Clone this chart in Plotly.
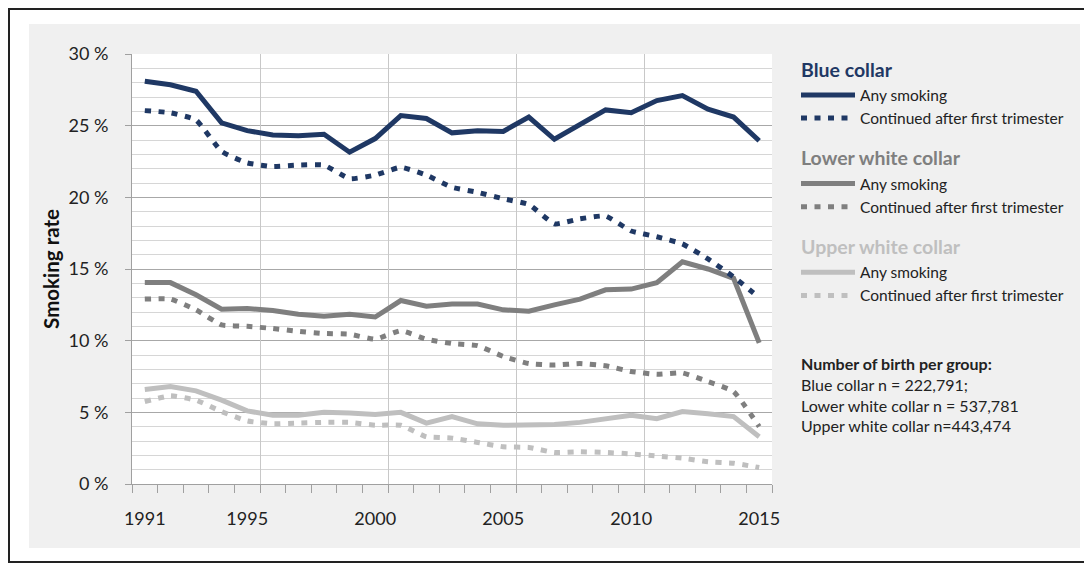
import plotly.graph_objects as go

years = list(range(1991, 2016))
label_years = [1991, 1995, 2000, 2005, 2010, 2015]
grid_years = [1995.5, 2000.5, 2005.5, 2010.5]

blue_any = [28.1, 27.85, 27.4, 25.2, 24.65, 24.35, 24.3, 24.4, 23.15, 24.1, 25.7, 25.5, 24.5,
            24.65, 24.6, 25.6, 24.05, 25.05, 26.1, 25.9, 26.75, 27.1, 26.15, 25.6, 23.95]
blue_cont = [26.05, 25.9, 25.4, 23.2, 22.4, 22.15, 22.25, 22.25, 21.3, 21.55, 22.1, 21.55, 20.7,
             20.35, 19.9, 19.5, 18.15, 18.5, 18.7, 17.65, 17.25, 16.75, 15.7, 14.45, 13.0]
lower_any = [14.05, 14.05, 13.2, 12.2, 12.25, 12.1, 11.85, 11.7, 11.85, 11.65, 12.8, 12.4, 12.55,
             12.55, 12.15, 12.05, 12.5, 12.9, 13.55, 13.6, 14.05, 15.5, 15.0, 14.35, 9.85]
lower_cont = [12.9, 12.9, 12.15, 11.1, 11.0, 10.85, 10.65, 10.5, 10.45, 10.1, 10.7, 10.1, 9.8,
              9.65, 8.9, 8.4, 8.3, 8.4, 8.25, 7.85, 7.65, 7.75, 7.15, 6.45, 4.0]
upper_any = [6.6, 6.8, 6.5, 5.85, 5.1, 4.8, 4.8, 5.0, 4.95, 4.85, 5.0, 4.25, 4.7,
             4.2, 4.1, 4.1, 4.15, 4.3, 4.55, 4.8, 4.55, 5.05, 4.9, 4.7, 3.3]
upper_cont = [5.75, 6.15, 5.85, 5.05, 4.4, 4.2, 4.25, 4.3, 4.3, 4.1, 4.1, 3.3, 3.2,
              2.9, 2.6, 2.55, 2.2, 2.25, 2.2, 2.1, 1.95, 1.8, 1.55, 1.45, 1.15]

groups = ["Blue collar", "Lower white collar", "Upper white collar"]
colors = ["#1f3864", "#7f7f7f", "#bfbfbf"]
series_names = ["Any smoking", "Continued after first trimester"]
note_lines = ["<b>Number of birth per group:</b>", "Blue collar n = 222,791;",
              "Lower white collar n = 537,781", "Upper white collar n=443,474"]

FONT = "Lato, 'Open Sans', sans-serif"
DOT = "6px,7.5px"

fig = go.Figure()
data = [(blue_any, blue_cont), (lower_any, lower_cont), (upper_any, upper_cont)]
for gi, (g, c, (a, d)) in enumerate(zip(groups, colors, data)):
    fig.add_trace(go.Scatter(
        x=years, y=a, mode="lines", name=series_names[0],
        line=dict(color=c, width=5), legendgroup=g,
        legendgrouptitle=dict(text=g, font=dict(size=19.5, color=c, family=FONT, weight="bold")),
        legendrank=gi * 10 + 1))
    fig.add_trace(go.Scatter(
        x=years, y=d, mode="lines", name=series_names[1],
        line=dict(color=c, width=5, dash=DOT, shape="spline", smoothing=0.4),
        legendgroup=g, legendrank=gi * 10 + 2,
        xaxis="x2" if gi == 0 else "x"))

# page body has an 8px offset; plot area spans 132..772 x 54..484 in screen pixels
OFF = 8
L, T = 132 - OFF, 54 - OFF
W, H = 1084, 558
pw, ph = 640, 430
R, B = W - L - pw, H - T - ph

def px_x(p):
    return (p - 132) / pw

def px_y(p):
    return (484 - p) / ph

shapes = [
    dict(type="rect", xref="paper", yref="paper", x0=px_x(29), x1=px_x(1080),
         y0=px_y(548), y1=px_y(24), fillcolor="#f0f0f0", line=dict(width=0), layer="below"),
    dict(type="rect", xref="paper", yref="paper", x0=0, x1=1, y0=0, y1=1,
         fillcolor="#ffffff", line=dict(width=0), layer="below"),
    dict(type="rect", xref="paper", yref="paper", x0=px_x(OFF + 1), x1=px_x(1086),
         y0=px_y(562), y1=px_y(OFF + 1), fillcolor="rgba(0,0,0,0)",
         line=dict(color="#222222", width=2), layer="below"),
]

fig.update_layout(
    width=W, height=H,
    margin=dict(l=L, r=R, t=T, b=B, autoexpand=False),
    paper_bgcolor="#ffffff", plot_bgcolor="rgba(0,0,0,0)",
    font=dict(family=FONT, color="#222222", size=15.5),
    shapes=shapes,
    showlegend=True,
    legend=dict(x=px_x(796), y=px_y(50), xanchor="left", yanchor="top",
                bgcolor="rgba(0,0,0,0)", traceorder="grouped", tracegroupgap=14,
                font=dict(size=15.5, family=FONT, color="#222222"), itemwidth=54),
    xaxis=dict(range=[1990.5, 2015.5], tickmode="array", tickvals=label_years,
               ticktext=[str(v) for v in label_years], ticks="", showgrid=False,
               zeroline=False, showline=True, linecolor="#a0a0a0", linewidth=1,
               tickfont=dict(size=18, family=FONT, color="#222222"), ticklabelstandoff=18,
               minor=dict(tickmode="linear", tick0=1990.5, dtick=1, ticks="outside",
                          ticklen=8, tickcolor="#a0a0a0", tickwidth=1, showgrid=False)),
    xaxis2=dict(overlaying="x", matches="x", anchor="y", tickmode="array", tickvals=grid_years,
                showticklabels=False, ticks="", showgrid=True, gridcolor="#c8c8c8",
                gridwidth=1, zeroline=False, showline=False),
    yaxis=dict(range=[0, 30], tickmode="linear", tick0=0, dtick=5, ticksuffix=" %",
               ticks="outside", ticklen=6, tickcolor="#a0a0a0", showgrid=True,
               gridcolor="#a8a8a8", gridwidth=1, zeroline=False, showline=True,
               linecolor="#a0a0a0", linewidth=1, ticklabelstandoff=13,
               tickfont=dict(size=18, family=FONT, color="#222222"),
               minor=dict(tickmode="linear", dtick=1, showgrid=True, gridcolor="#d6d6d6",
                          gridwidth=1, ticks=""),
               title=dict(text="<b>Smoking rate</b>", font=dict(size=20.5, family=FONT,
                          color="#111111"), standoff=3)),
    annotations=[dict(xref="paper", yref="paper", x=px_x(799), y=px_y(352),
                      xanchor="left", yanchor="top", align="left", showarrow=False,
                      text="<br>".join(note_lines),
                      font=dict(size=16, family=FONT, color="#222222"))],
)

fig.write_html("out.html")
